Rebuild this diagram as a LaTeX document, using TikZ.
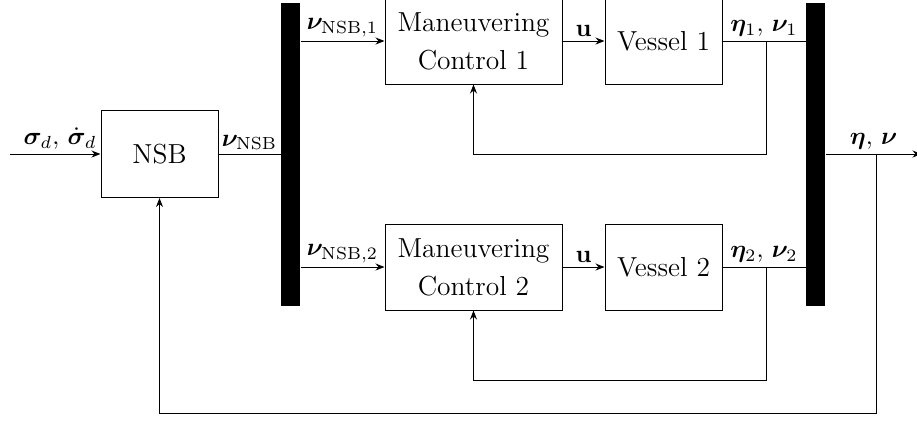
\documentclass[tikz,border=0pt]{standalone}
\usepackage{amsmath}
\usepackage{bm}
\usetikzlibrary{positioning,arrows.meta}

\begin{document}
\begin{tikzpicture}[
  font=\fontsize{11}{15.2}\selectfont,
  block/.style={draw, align=center, minimum height=34.4pt, inner sep=2pt},
  bus/.style={fill=black, minimum width=7.6pt, minimum height=121.2pt,
              inner sep=0pt},
  flow/.style={-{Stealth[length=3.6pt, width=2.8pt]}},
  lbl/.style={above, midway, inner sep=1.5pt, font=\fontsize{10.4}{12}\selectfont},
]
  \useasboundingbox (0,0) rectangle (366.8pt,-169.6pt);

  \node[block, minimum width=46.8pt, minimum height=34.8pt] (nsb)
    at (63.8pt,-61.6pt) {NSB};
  \node[bus, right=24.8pt of nsb] (split) {};

  \node[block, minimum width=70.8pt, right=33.6pt of split, yshift=45.2pt] (mc1)
    {Maneuvering\\Control 1};
  \node[block, minimum width=46.8pt, right=16.8pt of mc1] (v1) {Vessel 1};
  \node[block, minimum width=70.8pt, right=33.6pt of split, yshift=-45.2pt] (mc2)
    {Maneuvering\\Control 2};
  \node[block, minimum width=46.8pt, right=16.8pt of mc2] (v2) {Vessel 2};

  \node[bus, right=33.2pt of v1, yshift=-45.2pt] (merge) {};

  \coordinate[left=36.4pt of nsb] (in);
  \coordinate (out) at ([xshift=38.4pt]merge.east);
  \coordinate (tap) at ([xshift=20.4pt]merge.east);
  \coordinate (tap1) at ([xshift=17.6pt]v1.east);
  \coordinate (tap2) at ([xshift=17.6pt]v2.east);

  \draw[flow] (in) -- node[lbl, xshift=2pt] {$\bm{\sigma}_d,\, \dot{\bm{\sigma}}_d$} (nsb);
  \draw (nsb) -- node[lbl] {$\bm{\nu}_{\mathrm{NSB}}$} (split);

  \draw[flow] (split.east |- mc1) -- node[lbl] {$\bm{\nu}_{\mathrm{NSB},1}$} (mc1);
  \draw[flow] (mc1) -- node[lbl] {$\mathbf{u}$} (v1);
  \draw (v1) -- node[lbl] {$\bm{\eta}_1,\, \bm{\nu}_1$} (merge.west |- v1);
  \draw[flow] (tap1) |- ([yshift=-28pt]mc1.south) -- (mc1.south);

  \draw[flow] (split.east |- mc2) -- node[lbl] {$\bm{\nu}_{\mathrm{NSB},2}$} (mc2);
  \draw[flow] (mc2) -- node[lbl] {$\mathbf{u}$} (v2);
  \draw (v2) -- node[lbl] {$\bm{\eta}_2,\, \bm{\nu}_2$} (merge.west |- v2);
  \draw[flow] (tap2) |- ([yshift=-28pt]mc2.south) -- (mc2.south);

  \draw[flow] (merge) -- node[lbl] {$\bm{\eta},\, \bm{\nu}$} (out);
  \draw[flow] (tap) -- ++(0,-103.6pt) -| (nsb.south);
\end{tikzpicture}
\end{document}
